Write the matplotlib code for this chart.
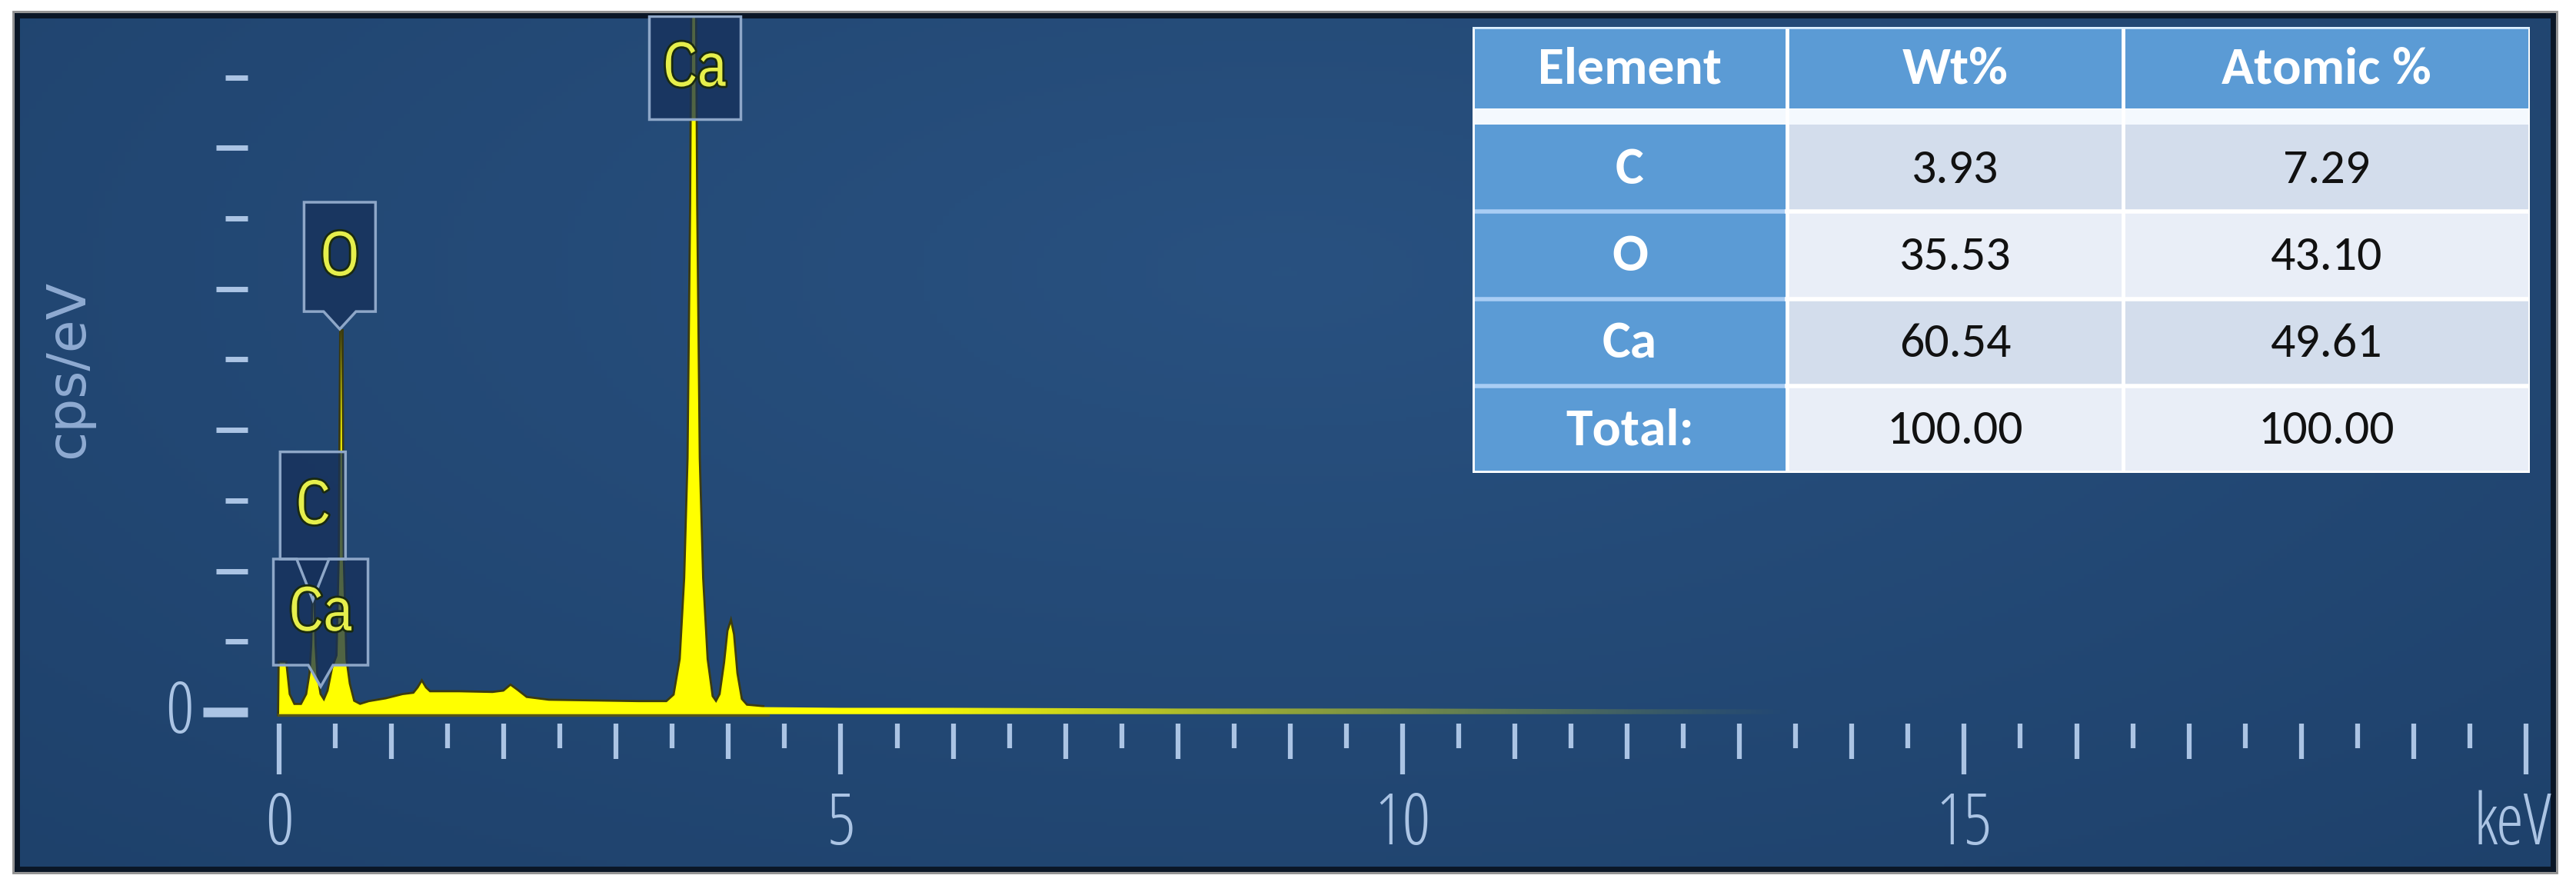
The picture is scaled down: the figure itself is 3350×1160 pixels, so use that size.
import numpy as np
import matplotlib
matplotlib.use('Agg')
import matplotlib.pyplot as plt
from matplotlib.patches import Polygon, Rectangle
import matplotlib.patheffects as pe

AXIS_FONT = dict(family=['Open Sans', 'DejaVu Sans'], fontstretch='condensed',
                 fontweight='light')
LABEL_FONT = dict(family=['IBM Plex Sans Condensed', 'DejaVu Sans'])
TABLE_FONT = ['Carlito', 'IBM Plex Sans Condensed', 'DejaVu Sans']
plt.rcParams['font.family'] = ['DejaVu Sans']

# EDS spectrum (keV, cps/eV in units of one y tick)
energy_kev = [0.00, 0.005, 0.055, 0.085, 0.13, 0.20, 0.25, 0.28, 0.295, 0.305,
              0.315, 0.33, 0.36, 0.40, 0.44, 0.48, 0.52, 0.54, 0.553, 0.566,
              0.59, 0.62, 0.66, 0.72, 0.80, 0.95, 1.10, 1.20, 1.24, 1.27,
              1.30, 1.34, 1.60, 1.90, 2.00, 2.06, 2.12, 2.20, 2.40, 2.80,
              3.20, 3.45, 3.52, 3.575, 3.615, 3.645, 3.668, 3.680, 3.69, 3.70,
              3.712, 3.735, 3.765, 3.805, 3.85, 3.89, 3.93, 3.97, 4.00, 4.02,
              4.04, 4.07, 4.11, 4.16, 4.30, 5.0, 6.0, 8.0, 10.0, 12.0, 14.0,
              16.0, 20.0]
counts = [-0.03, 0.70, 0.70, 0.25, 0.10, 0.10, 0.25, 0.55, 0.95, 1.59,
          0.95, 0.55, 0.25, 0.15, 0.30, 0.62, 0.80, 2.20, 5.43, 2.20,
          0.75, 0.40, 0.15, 0.10, 0.14, 0.18, 0.24, 0.26, 0.34, 0.42,
          0.34, 0.28, 0.28, 0.27, 0.29, 0.37, 0.30, 0.20, 0.16, 0.15,
          0.14, 0.14, 0.24, 0.75, 1.90, 3.60, 7.20, 10.5, 11.5, 10.5,
          7.20, 3.60, 1.90, 0.75, 0.22, 0.13, 0.25, 0.70, 1.15, 1.25,
          1.10, 0.55, 0.18, 0.09, 0.07, 0.06, 0.06, 0.05, 0.05, 0.04, 0.04,
          0.03, 0.03]

peak_labels = ['Ca', 'O', 'C', 'Ca']
peak_energies = [3.70, 0.54, 0.30, 0.37]

x_tick_values = [0, 5, 10, 15]
x_tick_labels = ['0', '5', '10', '15']

table_columns = ['Element', 'Wt%', 'Atomic %']
table_elements = ['C', 'O', 'Ca', 'Total:']
wt_pct = ['3.93', '35.53', '60.54', '100.00']
atomic_pct = ['7.29', '43.10', '49.61', '100.00']

# label box layout: (bottom, top, half width, pointer half width, pointer tip y)
label_boxes = [(8.41, 9.87, 0.405, None, None),
               (5.68, 7.23, 0.318, 0.144, 5.43),
               (2.17, 3.69, 0.291, 0.144, 1.59),
               (0.665, 2.17, 0.421, 0.110, 0.36)]

W, H = 3350, 1160
fig = plt.figure(figsize=(W / 100, H / 100), dpi=100)
fig.patch.set_facecolor('white')

# outer grey line hugging the dark frame
fig.patches.append(Rectangle((17 / W, 1 - 1135 / H), 3308 / W, 1120 / H,
                             transform=fig.transFigure, fill=False,
                             edgecolor='#8f8f8f', lw=2))

ax = fig.add_axes([22 / W, 1 - 1130 / H, 3298 / W, 1110 / H])
xlim = (-2.334, 20.24)
ylim = (-2.225, 9.88)
ax.set_xlim(*xlim)
ax.set_ylim(*ylim)
ax.set_xticks([])
ax.set_yticks([])
for sp in ax.spines.values():
    sp.set_color('#0a1626')
    sp.set_linewidth(5)

# background gradient
yy, xx = np.mgrid[0:1:200j, 0:1:400j]
r = np.clip(np.sqrt(((xx - 0.5) / 0.75) ** 2 + ((yy - 0.3) / 0.95) ** 2), 0, 1)
c_mid = np.array([0.160, 0.318, 0.502])
c_edge = np.array([0.118, 0.255, 0.420])
bg = c_mid * (1 - r[..., None]) + c_edge * r[..., None]
ax.imshow(bg, extent=(xlim[0], xlim[1], ylim[0], ylim[1]), origin='upper',
          aspect='auto', zorder=0)

tick_color = '#abc4e4'

# y ruler dashes
ax.hlines([1, 3, 5, 7, 9], -0.479, -0.281, color=tick_color, lw=5, zorder=1)
ax.hlines([2, 4, 6, 8], -0.561, -0.281, color=tick_color, lw=5, zorder=1)
ax.hlines([0], -0.678, -0.281, color=tick_color, lw=9, zorder=1)
ax.text(-0.89, -0.03, '0', color=tick_color, fontsize=66,
        ha='center', va='center', **AXIS_FONT)

# x ruler ticks
xt = np.arange(0, 20.01, 0.5)
major = xt[np.isclose(xt % 5, 0)]
medium = xt[np.isclose(xt % 1, 0) & ~np.isclose(xt % 5, 0)]
minor = xt[~np.isclose(xt % 1, 0)]
ax.vlines(major, -0.88, -0.16, color=tick_color, lw=4.5, zorder=1)
ax.vlines(medium, -0.67, -0.16, color=tick_color, lw=4.5, zorder=1)
ax.vlines(minor, -0.51, -0.16, color=tick_color, lw=4.5, zorder=1)
for v, lab in zip(x_tick_values, x_tick_labels):
    ax.text(v, -1.61, lab, color=tick_color, fontsize=66,
            ha='center', va='center', **AXIS_FONT)
ax.text(19.88, -1.61, 'keV', color=tick_color, fontsize=66,
        ha='center', va='center', **AXIS_FONT)
ax.text(-1.88, 4.86, 'cps/eV', color='#8fabd2', fontsize=50, rotation=90,
        ha='center', va='center')

# spectrum: yellow fill fading out along the tail
e = np.array(energy_kev)
c = np.array(counts)
main = e <= 4.35
ax.plot(e[main], c[main], color='#3c3c10', lw=4, zorder=2,
        solid_joinstyle='miter')
ax.plot([0, 4.35], [-0.04, -0.04], color='#55551a', lw=3, zorder=2)
poly = ax.fill_between(e, -0.03, c, facecolor='none', edgecolor='none')
nx = 600
gx = np.linspace(0, 20.3, nx)
alpha = np.clip((13.5 - gx) / (13.5 - 5.5), 0, 1)
grad = np.zeros((1, nx, 4))
grad[..., 0] = 1.0
grad[..., 1] = 1.0
grad[..., 2] = 0.0
grad[..., 3] = alpha ** 1.2
im = ax.imshow(grad, extent=(0, 20.3, -0.2, 12), aspect='auto', zorder=3,
               interpolation='bilinear')
im.set_clip_path(poly.get_paths()[0], transform=ax.transData)

# element label boxes
for lab, en, box in zip(peak_labels, peak_energies, label_boxes):
    y0, y1, hw, phw, tip = box
    verts = [(en - hw, y1), (en + hw, y1), (en + hw, y0)]
    if tip is not None:
        verts += [(en + phw, y0), (en, tip), (en - phw, y0)]
    verts += [(en - hw, y0)]
    ax.add_patch(Polygon(verts, closed=True, facecolor='#16305a', alpha=0.75,
                         edgecolor='none', zorder=4))
    ax.add_patch(Polygon(verts, closed=True, facecolor='none',
                         edgecolor='#8ea7c8', lw=2.5, zorder=4.1))
    ax.text(en, (y0 + y1) / 2 - 0.02, lab, color='#e6ef4c', fontsize=58,
            ha='center', va='center', zorder=5,
            path_effects=[pe.withStroke(linewidth=4, foreground='#1a2a10')],
            **LABEL_FONT)

# composition table
tax = fig.add_axes([1915 / W, 1 - 615 / H, 1375 / W, 580 / H])
tax.set_xlim(0, 1375)
tax.set_ylim(580, 0)
tax.axis('off')
col_edges = [0, 409, 846, 1375]
head_h, strip_h = 106, 21
row_h = (580 - head_h - strip_h) / len(table_elements)
blue = '#5b9bd5'
for j in range(3):
    x0, x1 = col_edges[j], col_edges[j + 1]
    tax.add_patch(Rectangle((x0, 0), x1 - x0, head_h, facecolor=blue,
                            edgecolor='none'))
    tax.text((x0 + x1) / 2, head_h / 2 + 2, table_columns[j], color='white',
             fontsize=50, fontweight='bold', family=TABLE_FONT,
             ha='center', va='center')
tax.add_patch(Rectangle((0, head_h), 1375, strip_h, facecolor='#f4f9fe',
                        edgecolor='none'))
for i, el in enumerate(table_elements):
    top = head_h + strip_h + i * row_h
    fill = '#d3ddec' if i % 2 == 0 else '#e9eef7'
    tax.add_patch(Rectangle((0, top), col_edges[1], row_h, facecolor=blue,
                            edgecolor='none'))
    tax.add_patch(Rectangle((col_edges[1], top), 1375 - col_edges[1], row_h,
                            facecolor=fill, edgecolor='none'))
    cy = top + row_h / 2 + 2
    tax.text(col_edges[1] / 2, cy, el, color='white', fontsize=50,
             fontweight='bold', family=TABLE_FONT, ha='center', va='center')
    tax.text((col_edges[1] + col_edges[2]) / 2, cy, wt_pct[i], color='#111111',
             fontsize=46, family=TABLE_FONT, ha='center', va='center')
    tax.text((col_edges[2] + col_edges[3]) / 2, cy, atomic_pct[i],
             color='#111111', fontsize=46, family=TABLE_FONT,
             ha='center', va='center')
    if i > 0:
        tax.plot([0, col_edges[1]], [top, top], color='#a9cdf4', lw=4)
        tax.plot([col_edges[1], 1375], [top, top], color='white', lw=4)
for x in col_edges:
    tax.plot([x, x], [0, 580], color='white', lw=3.5)
tax.plot([0, 1375], [0, 0], color='#dcefff', lw=4)
tax.plot([0, 1375], [580, 580], color='white', lw=4)

fig.savefig('out.png', dpi=100, facecolor='white')
